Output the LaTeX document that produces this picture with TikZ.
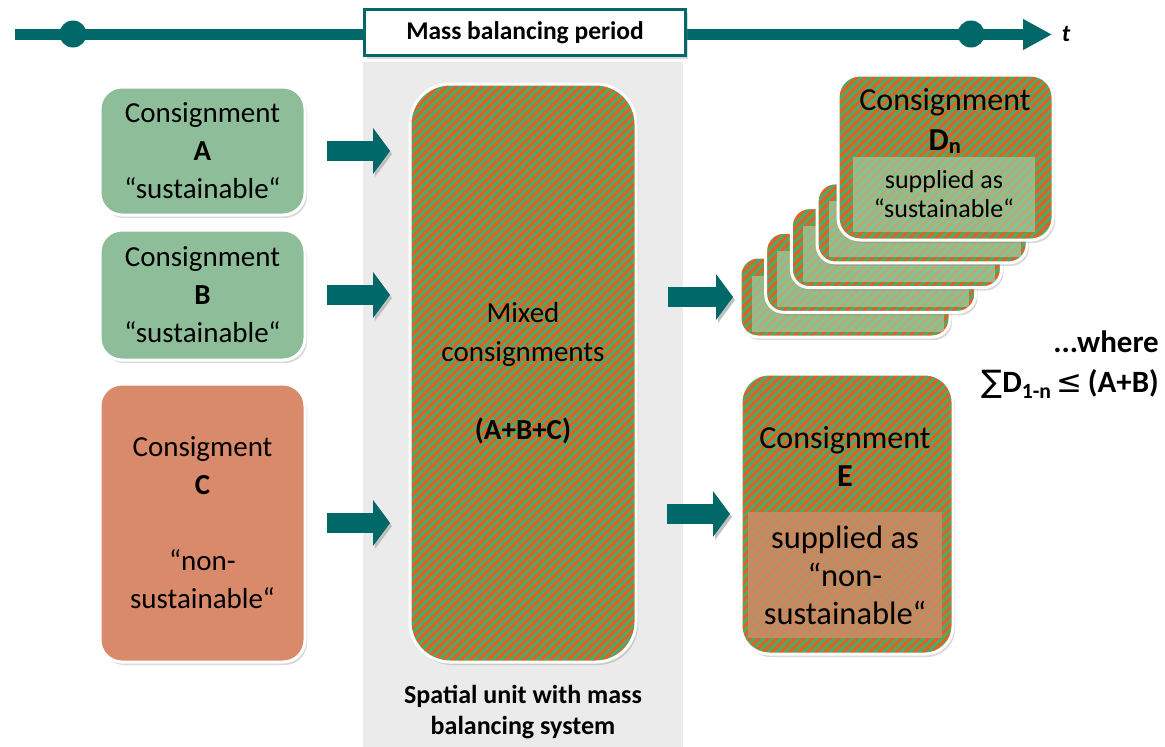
\documentclass[tikz,border=0pt]{standalone}
\usepackage{fontspec}
\setmainfont{Carlito}
\newfontfamily\symfont{DejaVu Sans}
\usepackage{tikz}
\usetikzlibrary{arrows.meta, shadows, patterns.meta}

\definecolor{massteal}{RGB}{0,104,104}
\definecolor{boxgreen}{RGB}{141,190,153}
\definecolor{boxred}{RGB}{217,138,107}
\definecolor{mixgreen}{RGB}{76,172,102}
\definecolor{mixorange}{RGB}{240,90,30}
\definecolor{panelgray}{RGB}{235,235,235}
\definecolor{dveil}{RGB}{160,210,170}
\definecolor{eveil}{RGB}{205,140,105}

\tikzset{
  box/.style={draw=white, line width=3pt, rounded corners=22pt, inner sep=0pt, align=center,
    drop shadow={shadow xshift=2pt, shadow yshift=-3pt, opacity=.3}},
  greenbox/.style={box, fill=boxgreen, minimum width=205pt, font=\fontsize{29}{38}\selectfont},
  redbox/.style={box, fill=boxred, minimum width=205pt, font=\fontsize{29}{38}\selectfont},
  stripebox/.style={box, preaction={fill=mixgreen},
    pattern={Lines[angle=45, distance=6.3pt, line width=2.8pt]}, pattern color=mixorange},
  dfilm/.style={fill=dveil, fill opacity=.65, text opacity=1, inner sep=0pt, align=center},
  efilm/.style={fill=eveil, fill opacity=.8, text opacity=1, inner sep=0pt, align=center},
  flow/.style={massteal, line width=20pt, -{Triangle[width=45pt, length=17pt]},
    preaction={draw=black!25, transform canvas={xshift=2pt, yshift=-3pt}}}
}

\begin{document}
\begin{tikzpicture}[x=1pt, y=-1pt]
\useasboundingbox (0,0) rectangle (1165,747);

% time axis
\coordinate (tstart) at (15,34.5);
\coordinate (tend) at (1052,34.5);
\draw[massteal, line width=11pt, -{Triangle[width=29pt, length=29pt]}] (tstart) -- (tend);
\node[circle, fill=massteal, minimum size=27pt, inner sep=0pt] (t0) at (73,34) {};
\node[circle, fill=massteal, minimum size=27pt, inner sep=0pt] (t1) at (971,34) {};
\node[font=\bfseries\itshape\fontsize{24}{24}\selectfont] (tlabel) at (1066,34) {t};

\fill[panelgray] (363,62) rectangle (683,747);
\node[draw=massteal, fill=white, line width=3pt, minimum width=321pt, minimum height=46pt,
  font=\bfseries\fontsize{25.5}{25.5}\selectfont,
  drop shadow={shadow xshift=2pt, shadow yshift=-3pt, opacity=.3}] (period) at (525,32.5) {Mass balancing period};

% inputs
\node[greenbox, minimum height=128pt] (A) at (202.5,151) {Consignment\\\textbf{A}\\“sustainable“};
\node[greenbox, minimum height=130pt] (B) at (202.5,295) {Consignment\\\textbf{B}\\“sustainable“};
\node[redbox, minimum height=278pt] (C) at (202.5,523) {Consigment\\\textbf{C}\\[38pt]“non-\\sustainable“};

\node[stripebox, rounded corners=40pt, minimum width=226pt, minimum height=578pt,
  font=\fontsize{29}{39}\selectfont] (mix) at (523,373) {Mixed\\consignments\\[39pt]\textbf{(A+B+C)}};
\node[font=\bfseries\fontsize{26}{31}\selectfont, align=center] (unit) at (523,712) {Spatial unit with mass\\balancing system};

\draw[flow, shorten <=20.5pt, shorten >=18.5pt] (A.east) -- (A.east -| mix.west);
\draw[flow, shorten <=20.5pt, shorten >=18.5pt] (B.east) -- (B.east -| mix.west);
\draw[flow, shorten <=20.5pt, shorten >=18.5pt] (C.east) -- (C.east -| mix.west);

% outputs D
\foreach \i in {0,...,3} {
  \node[stripebox, rounded corners=18pt, minimum width=210pt, minimum height=80pt] (card\i) at ({845+25.7*\i},{297-24.7*\i}) {};
  \fill[dveil, fill opacity=.65] ([xshift=13pt, yshift=-20pt]card\i.north west) rectangle ([xshift=-8pt, yshift=7pt]card\i.south east);
}
\node[stripebox, minimum width=215pt, minimum height=165pt] (Dn) at (945.5,157.5) {};
\node[dfilm, minimum width=182pt, minimum height=75pt, font=\fontsize{26}{29}\selectfont] (Dnin) at (944,194.5) {supplied as\\“sustainable“};
\node[font=\fontsize{32}{40}\selectfont, align=center, inner sep=0pt] (Dnhead) at (945,121) {Consignment\\\textbf{D\textsubscript{n}}};

% output E
\node[stripebox, rounded corners=28pt, minimum width=212pt, minimum height=280pt] (E) at (847,514) {};
\node[efilm, minimum width=194pt, minimum height=126pt, font=\fontsize{32.5}{38}\selectfont] (Ein) at (845,575) {supplied as\\“non-\\sustainable“};
\node[font=\fontsize{32}{38}\selectfont, align=center, inner sep=0pt] (Ehead) at (845,456) {Consignment\\\textbf{E}};

\draw[flow, shorten <=30.5pt, shorten >=5.5pt] (mix.east |- card0.west) -- (card0.west);
\draw[flow, shorten <=29.5pt, shorten >=9.5pt] (mix.east |- E.west) -- (E.west);

\node[font=\bfseries\fontsize{31}{40}\selectfont, align=right, anchor=east, inner sep=0pt] (where) at (1159,365)
  {...where\\{\symfont\mdseries ∑}D\textsubscript{1-n}\,{\symfont\mdseries ≤}\,(A+B)};
\end{tikzpicture}
\end{document}
